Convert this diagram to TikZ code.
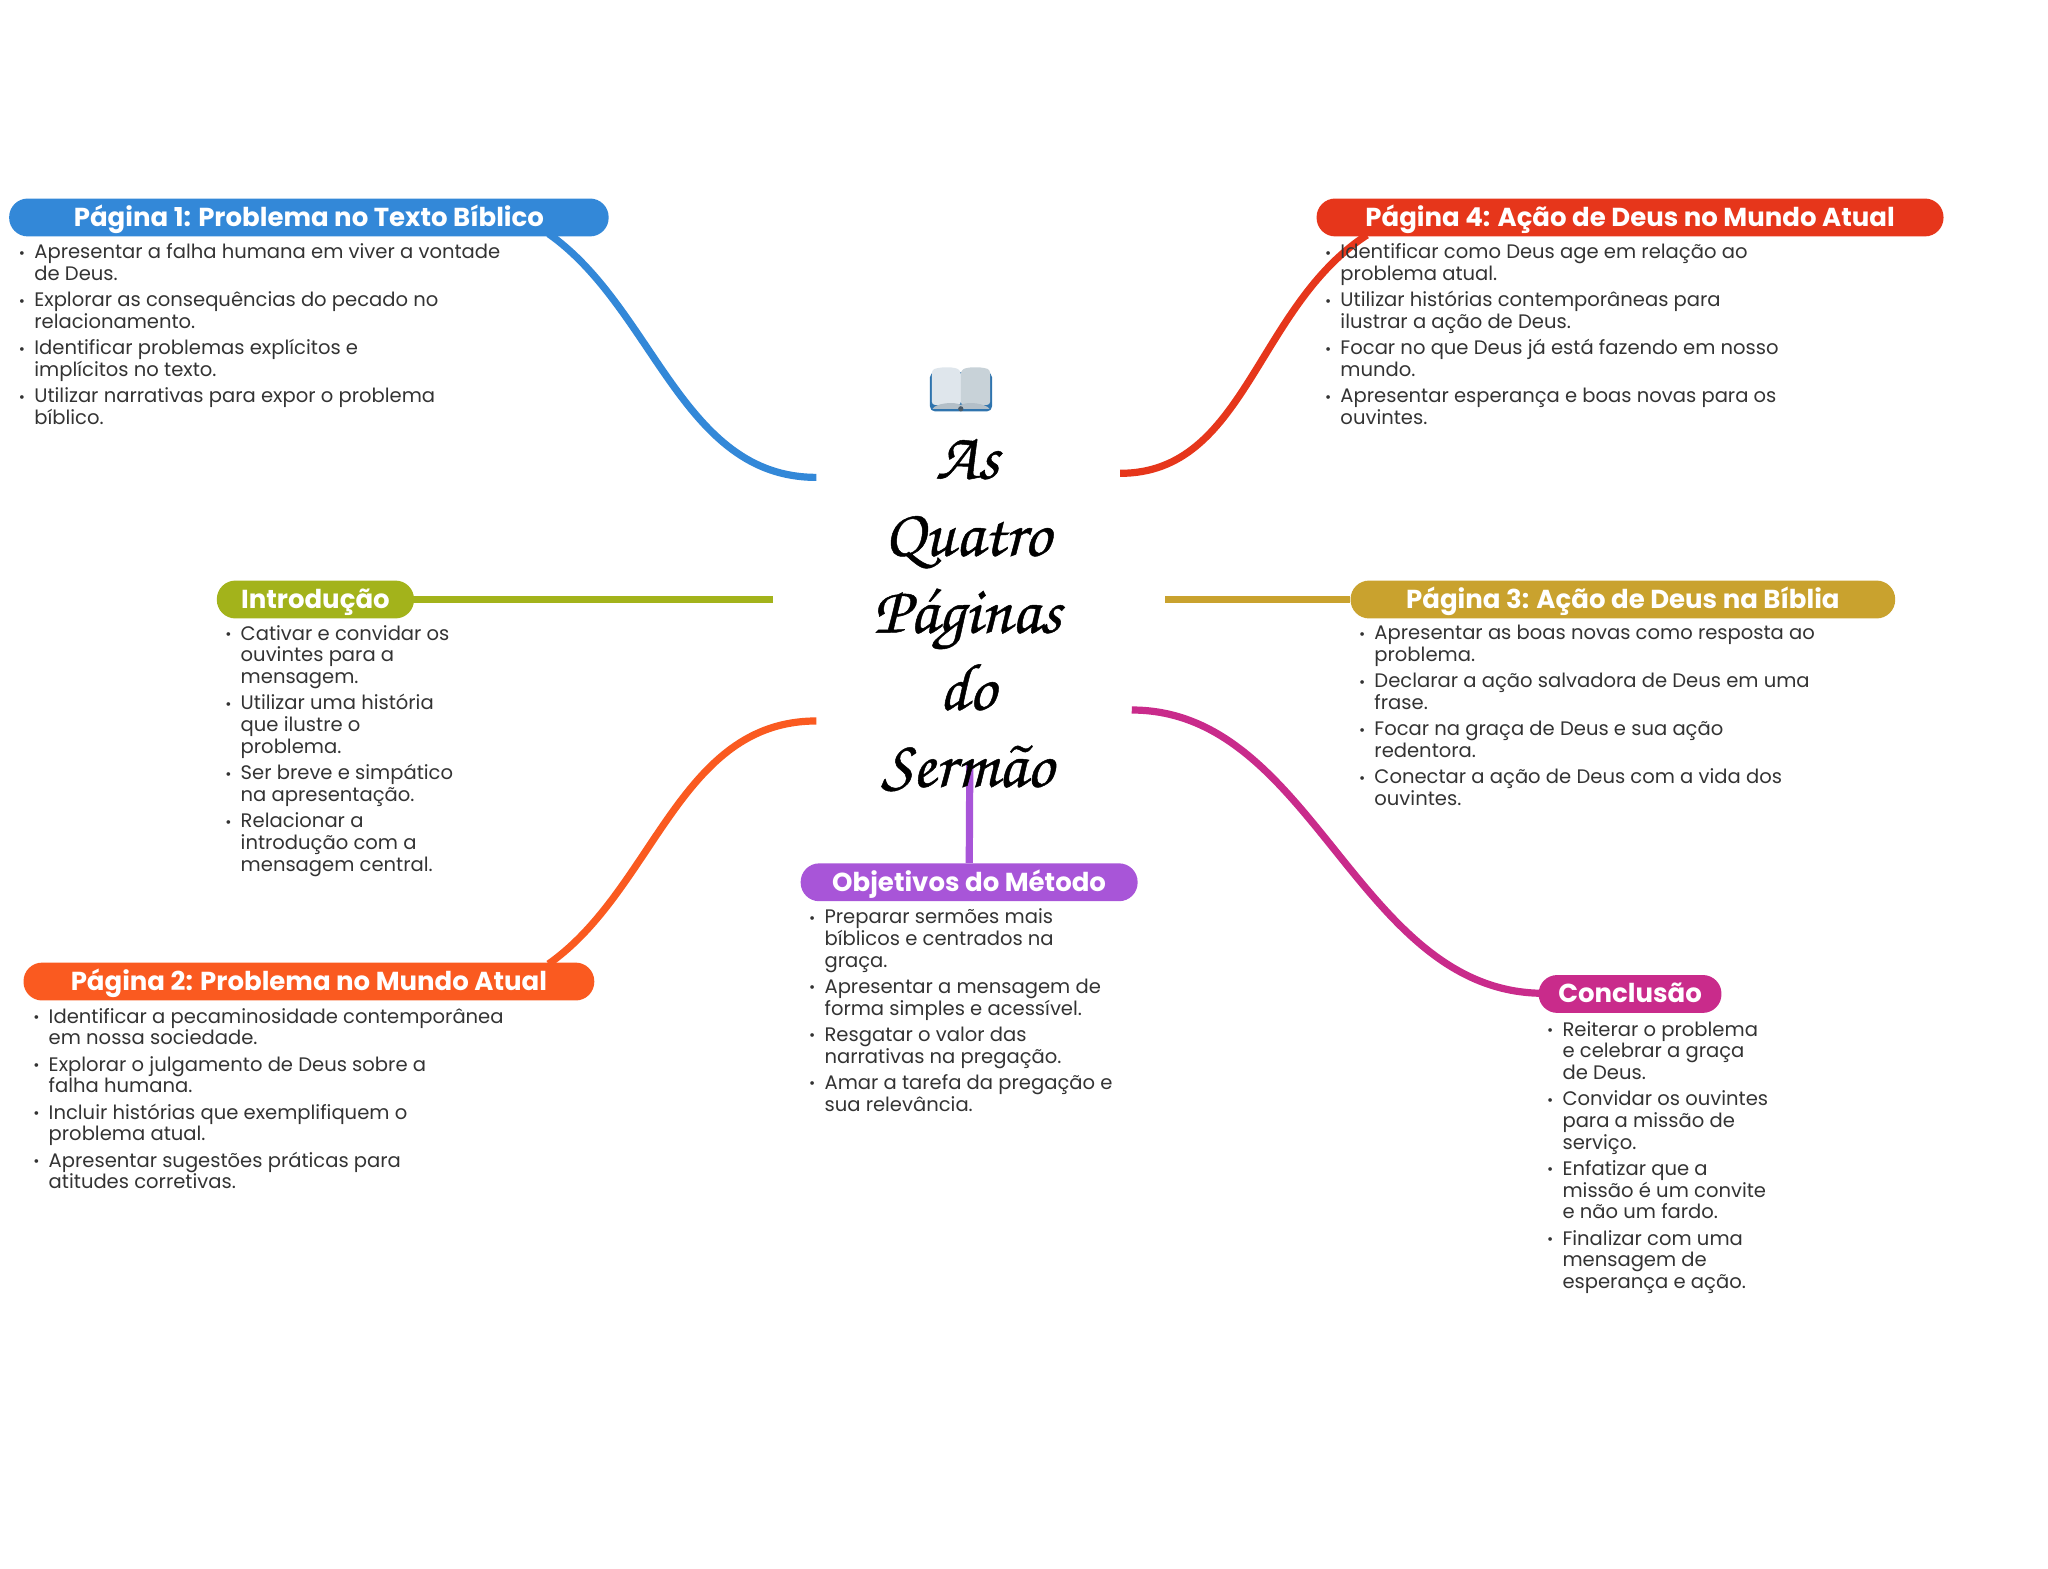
\documentclass[tikz,border=0pt]{standalone}
\usepackage{fontspec}
\setmainfont{Poppins}
\newfontfamily\titlefont[FakeBold=0.7]{TeX Gyre Chorus}
\usetikzlibrary{backgrounds}
\definecolor{cblue}{HTML}{3388D8}
\definecolor{cred}{HTML}{E6361B}
\definecolor{cgreen}{HTML}{A3B31B}
\definecolor{cgold}{HTML}{C9A22E}
\definecolor{cpurple}{HTML}{A855D8}
\definecolor{corange}{HTML}{FA5A20}
\definecolor{cmagenta}{HTML}{C92B8B}
\definecolor{ctext}{HTML}{333333}
\definecolor{bkcover}{HTML}{2F74AE}
\definecolor{bkleft}{HTML}{DFE6EC}
\definecolor{bkright}{HTML}{C8D2D8}
\definecolor{bkbase}{HTML}{B3BFC8}
\definecolor{bkdot}{HTML}{4A5A68}
\newcommand{\bu}{\leavevmode\llap{\raisebox{0.3pt}{\fontsize{7.5}{7.5}\selectfont •}\hspace{4.6pt}}}
\tikzset{
  x=0.653pt,y=-0.653pt,
  hd/.style n args={3}{fill=#1,text=white,rounded corners=9.3pt,inner sep=0pt,
    minimum width=#2*0.653pt,minimum height=#3*0.653pt,
    text height=10.4pt,text depth=1.6pt,
    font=\fontsize{13}{13}\selectfont\bfseries},
  lst/.style={anchor=north west,align=left,inner sep=0pt,text=ctext,
    font=\fontsize{9.78}{10.85}\selectfont},
  con/.style={line width=3.6pt}
}
\newcommand{\gap}{\\[2.3pt]}
\begin{document}
\begin{tikzpicture}
\useasboundingbox (0,0) rectangle (1568,1201);
% headers
\node[hd={cblue}{459}{29}] (h1) at (236.5,166.5) {Página 1: Problema no Texto Bíblico};
\node[hd={cred}{480}{29}] (h4) at (1248,166.5) {Página 4: Ação de Deus no Mundo Atual};
\node[hd={cgreen}{151}{29}] (intro) at (241.5,459) {Introdução};
\node[hd={cgold}{417}{29}] (h3) at (1242.5,459) {Página 3: Ação de Deus na Bíblia};
\node[hd={cpurple}{258}{29}] (obj) at (742,675.5) {Objetivos do Método};
\node[hd={corange}{437}{29}] (h2) at (236.5,751.5) {Página 2: Problema no Mundo Atual};
\node[hd={cmagenta}{140}{29}] (conc) at (1248,761) {Conclusão};
% central title
\node[align=center,inner sep=0pt,font=\titlefont\fontsize{33.5}{38.5}\selectfont] (title) at (740.5,471)
  {As\\Quatro\\Páginas\\do\\Sermão};
% book
\fill[bkcover,rounded corners=2.5pt] (712,285) rectangle (759.5,315);
\fill[rounded corners=1.5pt,fill=bkleft] (713.5,283) .. controls (722,280.5) and (731,281) .. (735.6,284) -- (735.6,310) -- (713.5,310) -- cycle;
\fill[rounded corners=1.5pt,fill=bkright] (735.6,284) .. controls (740,281) and (750,280.5) .. (758,283) -- (758,310) -- (735.6,310) -- cycle;
\fill[bkbase] (714,313) .. controls (716,309) and (730,307) .. (735.6,310) .. controls (741,307) and (755,309) .. (757.5,313) -- cycle;
\fill[bkdot] (735.6,313) circle (2);
% lists
\node[lst] (l1) at (26,186.5) {\bu Apresentar a falha humana em viver a vontade\\de Deus.\gap
\bu Explorar as consequências do pecado no\\relacionamento.\gap
\bu Identificar problemas explícitos e\\implícitos no texto.\gap
\bu Utilizar narrativas para expor o problema\\bíblico.};
\node[lst] (l4) at (1026,186.5) {\bu Identificar como Deus age em relação ao\\problema atual.\gap
\bu Utilizar histórias contemporâneas para\\ilustrar a ação de Deus.\gap
\bu Focar no que Deus já está fazendo em nosso\\mundo.\gap
\bu Apresentar esperança e boas novas para os\\ouvintes.};
\node[lst] (li) at (184,478.5) {\bu Cativar e convidar os\\ouvintes para a\\mensagem.\gap
\bu Utilizar uma história\\que ilustre o\\problema.\gap
\bu Ser breve e simpático\\na apresentação.\gap
\bu Relacionar a\\introdução com a\\mensagem central.};
\node[lst] (l3) at (1052,478.5) {\bu Apresentar as boas novas como resposta ao\\problema.\gap
\bu Declarar a ação salvadora de Deus em uma\\frase.\gap
\bu Focar na graça de Deus e sua ação\\redentora.\gap
\bu Conectar a ação de Deus com a vida dos\\ouvintes.};
\node[lst] (lo) at (631,695.5) {\bu Preparar sermões mais\\bíblicos e centrados na\\graça.\gap
\bu Apresentar a mensagem de\\forma simples e acessível.\gap
\bu Resgatar o valor das\\narrativas na pregação.\gap
\bu Amar a tarefa da pregação e\\sua relevância.};
\node[lst] (l2) at (37,771.5) {\bu Identificar a pecaminosidade contemporânea\\em nossa sociedade.\gap
\bu Explorar o julgamento de Deus sobre a\\falha humana.\gap
\bu Incluir histórias que exemplifiquem o\\problema atual.\gap
\bu Apresentar sugestões práticas para\\atitudes corretivas.};
\node[lst] (lc) at (1196,781.5) {\bu Reiterar o problema\\e celebrar a graça\\de Deus.\gap
\bu Convidar os ouvintes\\para a missão de\\serviço.\gap
\bu Enfatizar que a\\missão é um convite\\e não um fardo.\gap
\bu Finalizar com uma\\mensagem de\\esperança e ação.};
% connector free ends
\coordinate (c1) at (625,365.5);
\coordinate (c4) at (857.6,362.4);
\coordinate (ci) at (592,459);
\coordinate (c3) at (892,459);
\coordinate (c2) at (625,552);
\coordinate (cc) at (866.5,543.6);
\coordinate (co) at (742.5,585);
\coordinate (e1) at (420,179);
\coordinate (e4) at (1046.5,180);
\coordinate (e2) at (420,738);
\coordinate (ec) at (1182,760.5);
\begin{pgfonlayer}{background}
\draw[con,cblue] (c1) .. controls (522,365.5) and (501,236) .. (e1);
\draw[con,cred] (c4) .. controls (953.6,362.4) and (961.5,235) .. (e4);
\draw[con,cgreen] (ci) -- (intro);
\draw[con,cgold] (c3) -- (h3);
\draw[con,corange] (c2) .. controls (520,552) and (501,681) .. (e2);
\draw[con,cmagenta] (cc) .. controls (1006,543.6) and (1039,760.5) .. (ec);
\draw[con,cpurple] (co) -- (obj);
\end{pgfonlayer}
\end{tikzpicture}
\end{document}
